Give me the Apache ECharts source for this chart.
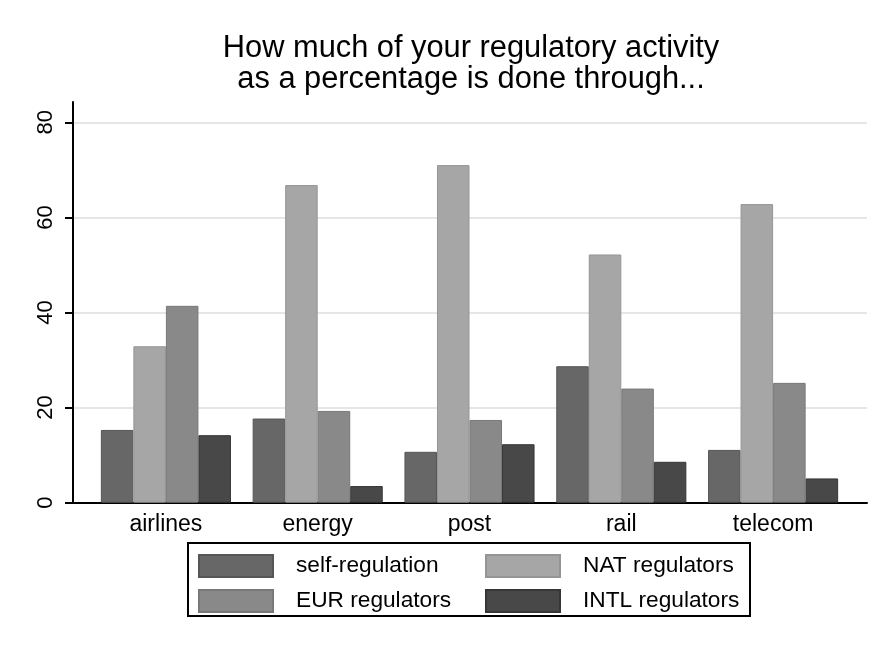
<!DOCTYPE html>
<html>
<head>
<meta charset="utf-8">
<script src="https://cdn.jsdelivr.net/npm/echarts@6/dist/echarts.min.js"></script>
<style>
  html, body { margin: 0; padding: 0; background: #fff; }
  #chart { width: 881px; height: 646px; }
</style>
</head>
<body>
<div id="chart"></div>
<script>
// values (percent)
var sectors = ['airlines', 'energy', 'post', 'rail', 'telecom'];
var selfReg = [15.3, 17.7, 10.7, 28.7, 11.1];
var natReg  = [32.9, 66.8, 71.0, 52.2, 62.8];
var eurReg  = [41.4, 19.3, 17.4, 24.0, 25.2];
var intlReg = [14.2, 3.5, 12.3, 8.6, 5.1];
var yTicks = [0, 20, 40, 60, 80];

var font = '"Liberation Sans", Arial, sans-serif';
var plotTop = 122.3, plotBottom = 143.3;

function barSeries(name, data, color, border) {
	return {
		name: name,
		type: 'bar',
		xAxisIndex: 2,
		yAxisIndex: 2,
		data: data,
		barGap: '0%',
		barCategoryGap: '14.3%',
		itemStyle: {
			color: color,
			borderColor: border,
			borderWidth: 1
		}
	};
}

var legendText = { fontFamily: font, fontSize: 22.7, color: '#000', lineHeight: 22, padding: [0, 0, 0, 18] };

var myChart = echarts.init(document.getElementById('chart'));
var option = {
	backgroundColor: '#fff',
	animation: false,
	title: {
		text: 'How much of your regulatory activity\nas a percentage is done through...',
		left: 466,
		textAlign: 'center',
		top: 28,
		textStyle: {
			fontFamily: font,
			fontSize: 30.8,
			fontWeight: 'normal',
			lineHeight: 31,
			color: '#000'
		}
	},
	graphic: [{
		type: 'rect',
		shape: { x: 188, y: 543, width: 562, height: 73 },
		style: { fill: 'none', stroke: '#000', lineWidth: 2 }
	}],
	legend: [{
		data: ['self-regulation', 'EUR regulators'],
		orient: 'vertical',
		left: 193,
		top: 549,
		icon: 'rect',
		itemWidth: 74,
		itemHeight: 22,
		itemGap: 11,
		textStyle: legendText
	}, {
		data: ['NAT regulators', 'INTL regulators'],
		orient: 'vertical',
		left: 480,
		top: 549,
		icon: 'rect',
		itemWidth: 74,
		itemHeight: 22,
		itemGap: 11,
		textStyle: legendText
	}],
	grid: [
		{ left: 73, right: 14, top: 102, bottom: plotBottom },
		{ left: 73, right: 14, top: plotTop, bottom: plotBottom },
		{ left: 90, right: 32, top: plotTop, bottom: plotBottom }
	],
	xAxis: [{
		gridIndex: 0,
		type: 'value',
		min: 0,
		max: 1,
		axisLine: { show: true, lineStyle: { color: '#000', width: 2 } },
		axisTick: { show: false },
		axisLabel: { show: false },
		splitLine: { show: false }
	}, {
		gridIndex: 1,
		type: 'value',
		show: false
	}, {
		gridIndex: 2,
		type: 'category',
		data: sectors,
		axisLine: { show: false },
		axisTick: { show: false },
		axisLabel: {
			margin: 10,
			fontFamily: font,
			fontSize: 23,
			color: '#000'
		}
	}],
	yAxis: [{
		gridIndex: 0,
		type: 'value',
		min: 0,
		max: 84.3,
		axisLine: { show: true, lineStyle: { color: '#000', width: 2 } },
		axisTick: { show: false },
		axisLabel: { show: false },
		splitLine: { show: false }
	}, {
		gridIndex: 1,
		type: 'value',
		min: yTicks[0],
		max: yTicks[yTicks.length - 1],
		interval: 20,
		axisLine: { show: false },
		axisTick: { show: true, length: 8, lineStyle: { color: '#000', width: 2 } },
		axisLabel: {
			rotate: 90,
			margin: 16,
			fontFamily: font,
			fontSize: 22,
			color: '#000'
		},
		splitLine: { show: true, lineStyle: { color: '#e6e6e6', width: 2 } }
	}, {
		gridIndex: 2,
		type: 'value',
		min: yTicks[0],
		max: yTicks[yTicks.length - 1],
		show: false
	}],
	series: [
		barSeries('self-regulation', selfReg, '#676767', '#555555'),
		barSeries('NAT regulators', natReg, '#a6a6a6', '#959595'),
		barSeries('EUR regulators', eurReg, '#898989', '#787878'),
		barSeries('INTL regulators', intlReg, '#484848', '#363636')
	]
};
myChart.setOption(option);
window.addEventListener('resize', function () {
	myChart.resize();
});
</script>
</body>
</html>
